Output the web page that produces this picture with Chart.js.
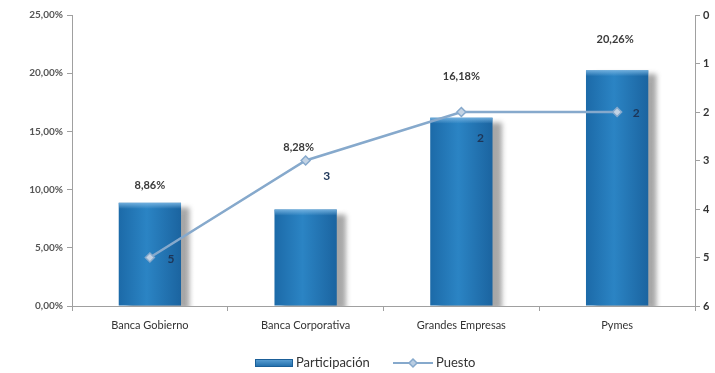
<!DOCTYPE html>
<html>
<head>
<meta charset="utf-8">
<script src="https://cdn.jsdelivr.net/npm/chart.js@4.4.1/dist/chart.umd.min.js"></script>
<style>
html,body{margin:0;padding:0;background:#fff;}
#wrap{width:715px;height:373px;position:relative;}
</style>
</head>
<body>
<div id="wrap"><canvas id="c" width="715" height="373"></canvas></div>
<script>
// ---- data ----
const categories = ['Banca Gobierno', 'Banca Corporativa', 'Grandes Empresas', 'Pymes'];
const participacion = [8.86, 8.28, 16.18, 20.26];
const puesto = [5, 3, 2, 2];
const seriesNames = ['Participación', 'Puesto'];

// ---- label styling (pixel offsets only) ----
const pctLabelDy = [-17, -62, -41, -31];
const pctLabelDx = [0, -7, 0, -2];
const rankLabelDx = [21, 21, 19, 19];
const rankLabelDy = [2, 16, 26, 1];

const FONT = 'Lato, "Open Sans", sans-serif';

function fmtPct(v) {
  return v.toFixed(2).replace('.', ',') + '%';
}

const barStyle = {
  id: 'barStyle',
  beforeDatasetDraw(chart, args) {
    const ds = chart.data.datasets[args.index];
    if (ds.type !== 'bar') return;
    const ctx = chart.ctx;
    const meta = args.meta;
    meta.data.forEach(el => {
      const w = el.width;
      const g = ctx.createLinearGradient(el.x - w / 2, 0, el.x + w / 2, 0);
      g.addColorStop(0, '#1c6aa8');
      g.addColorStop(0.45, '#2b84c4');
      g.addColorStop(1, '#1b64a0');
      el.options = Object.assign({}, el.options, { backgroundColor: g });
    });
    ctx.save();
    ctx.shadowColor = 'rgba(60,60,60,0.45)';
    ctx.shadowOffsetX = 9;
    ctx.shadowOffsetY = 4;
    ctx.shadowBlur = 5;
  },
  afterDatasetDraw(chart, args) {
    const ds = chart.data.datasets[args.index];
    if (ds.type !== 'bar') return;
    const ctx = chart.ctx;
    ctx.restore();
    // top highlight
    ctx.save();
    args.meta.data.forEach(el => {
      const w = el.width;
      const g = ctx.createLinearGradient(0, el.y, 0, el.y + 6);
      g.addColorStop(0, 'rgba(120,180,225,0.9)');
      g.addColorStop(1, 'rgba(120,180,225,0)');
      ctx.fillStyle = g;
      ctx.fillRect(el.x - w / 2, el.y, w, 6);
    });
    ctx.restore();
  }
};

const labelsPlugin = {
  id: 'valueLabels',
  afterDatasetsDraw(chart) {
    const ctx = chart.ctx;
    ctx.save();
    ctx.textAlign = 'center';
    ctx.textBaseline = 'middle';
    const barMeta = chart.getDatasetMeta(1);
    ctx.font = 'bold 11px ' + FONT;
    ctx.fillStyle = '#3a3a3a';
    barMeta.data.forEach((el, i) => {
      ctx.fillText(fmtPct(participacion[i]), el.x + pctLabelDx[i], el.y + pctLabelDy[i]);
    });
    const lineMeta = chart.getDatasetMeta(0);
    ctx.fillStyle = '#1d3557';
    ctx.font = 'bold 12px ' + FONT;
    lineMeta.data.forEach((el, i) => {
      ctx.fillText(String(puesto[i]), el.x + rankLabelDx[i], el.y + rankLabelDy[i]);
    });
    ctx.restore();
  }
};

const legendPlugin = {
  id: 'customLegend',
  afterDraw(chart) {
    const ctx = chart.ctx;
    ctx.save();
    const y = 363;
    // bar swatch
    const g = ctx.createLinearGradient(0, y - 4, 0, y + 4);
    g.addColorStop(0, '#5fa3d6');
    g.addColorStop(1, '#1c6aa8');
    ctx.fillStyle = g;
    ctx.fillRect(255, y - 4, 38, 8);
    ctx.strokeStyle = '#1b5f98';
    ctx.lineWidth = 1;
    ctx.strokeRect(255.5, y - 3.5, 37, 7);
    ctx.font = '13px ' + FONT;
    ctx.fillStyle = '#333';
    ctx.textBaseline = 'middle';
    ctx.textAlign = 'left';
    ctx.fillText(seriesNames[0], 296, y);
    // line swatch
    ctx.strokeStyle = '#86a9cc';
    ctx.lineWidth = 2;
    ctx.beginPath();
    ctx.moveTo(393, y);
    ctx.lineTo(433, y);
    ctx.stroke();
    ctx.fillStyle = '#b9cde2';
    ctx.lineWidth = 1.5;
    ctx.beginPath();
    ctx.moveTo(413, y - 4);
    ctx.lineTo(417, y);
    ctx.lineTo(413, y + 4);
    ctx.lineTo(409, y);
    ctx.closePath();
    ctx.fill();
    ctx.stroke();
    ctx.fillStyle = '#333';
    ctx.fillText(seriesNames[1], 436, y);
    ctx.restore();
  }
};

new Chart(document.getElementById('c'), {
  data: {
    labels: categories,
    datasets: [
      {
        type: 'line',
        label: seriesNames[1],
        data: puesto,
        yAxisID: 'y2',
        order: 0,
        borderColor: '#86a9cc',
        borderWidth: 2.5,
        pointStyle: 'rectRot',
        pointRadius: 4.5,
        pointBackgroundColor: '#c3d3e4',
        pointBorderColor: '#86a9cc',
        pointBorderWidth: 1.5,
        tension: 0
      },
      {
        type: 'bar',
        label: seriesNames[0],
        data: participacion,
        yAxisID: 'y',
        order: 1,
        backgroundColor: () => '#2678b6',
        categoryPercentage: 0.8,
        barPercentage: 0.5
      }
    ]
  },
  options: {
    responsive: false,
    animation: false,
    devicePixelRatio: 1,
    layout: { padding: { top: 15, right: 0, left: 0, bottom: 37 } },
    plugins: {
      legend: { display: false },
      tooltip: { enabled: false }
    },
    scales: {
      x: {
        grid: { display: true, drawOnChartArea: false, offset: true, tickLength: 5, color: '#a0a0a0' },
        border: { color: '#a0a0a0' },
        ticks: { color: '#333', font: { family: FONT, size: 11 }, padding: 8 },
        afterFit(scale) { scale.height = 30; }
      },
      y: {
        position: 'left',
        min: 0, max: 25,
        ticks: { stepSize: 5, color: '#555', font: { family: FONT, size: 10, weight: 'bold' }, callback: v => fmtPct(v), padding: 4 },
        grid: { drawOnChartArea: false, tickLength: 5, color: '#a0a0a0' },
        border: { color: '#a0a0a0' },
        afterFit(scale) { scale.width = 72; }
      },
      y2: {
        position: 'right',
        reverse: true,
        min: 0, max: 6,
        ticks: { stepSize: 1, color: '#333', font: { family: FONT, size: 11, weight: 'bold' }, padding: 3 },
        grid: { drawOnChartArea: false, tickLength: 5, color: '#a0a0a0' },
        border: { color: '#a0a0a0' },
        afterFit(scale) { scale.width = 20; }
      }
    }
  },
  plugins: [barStyle, labelsPlugin, legendPlugin]
});
</script>
</body>
</html>
